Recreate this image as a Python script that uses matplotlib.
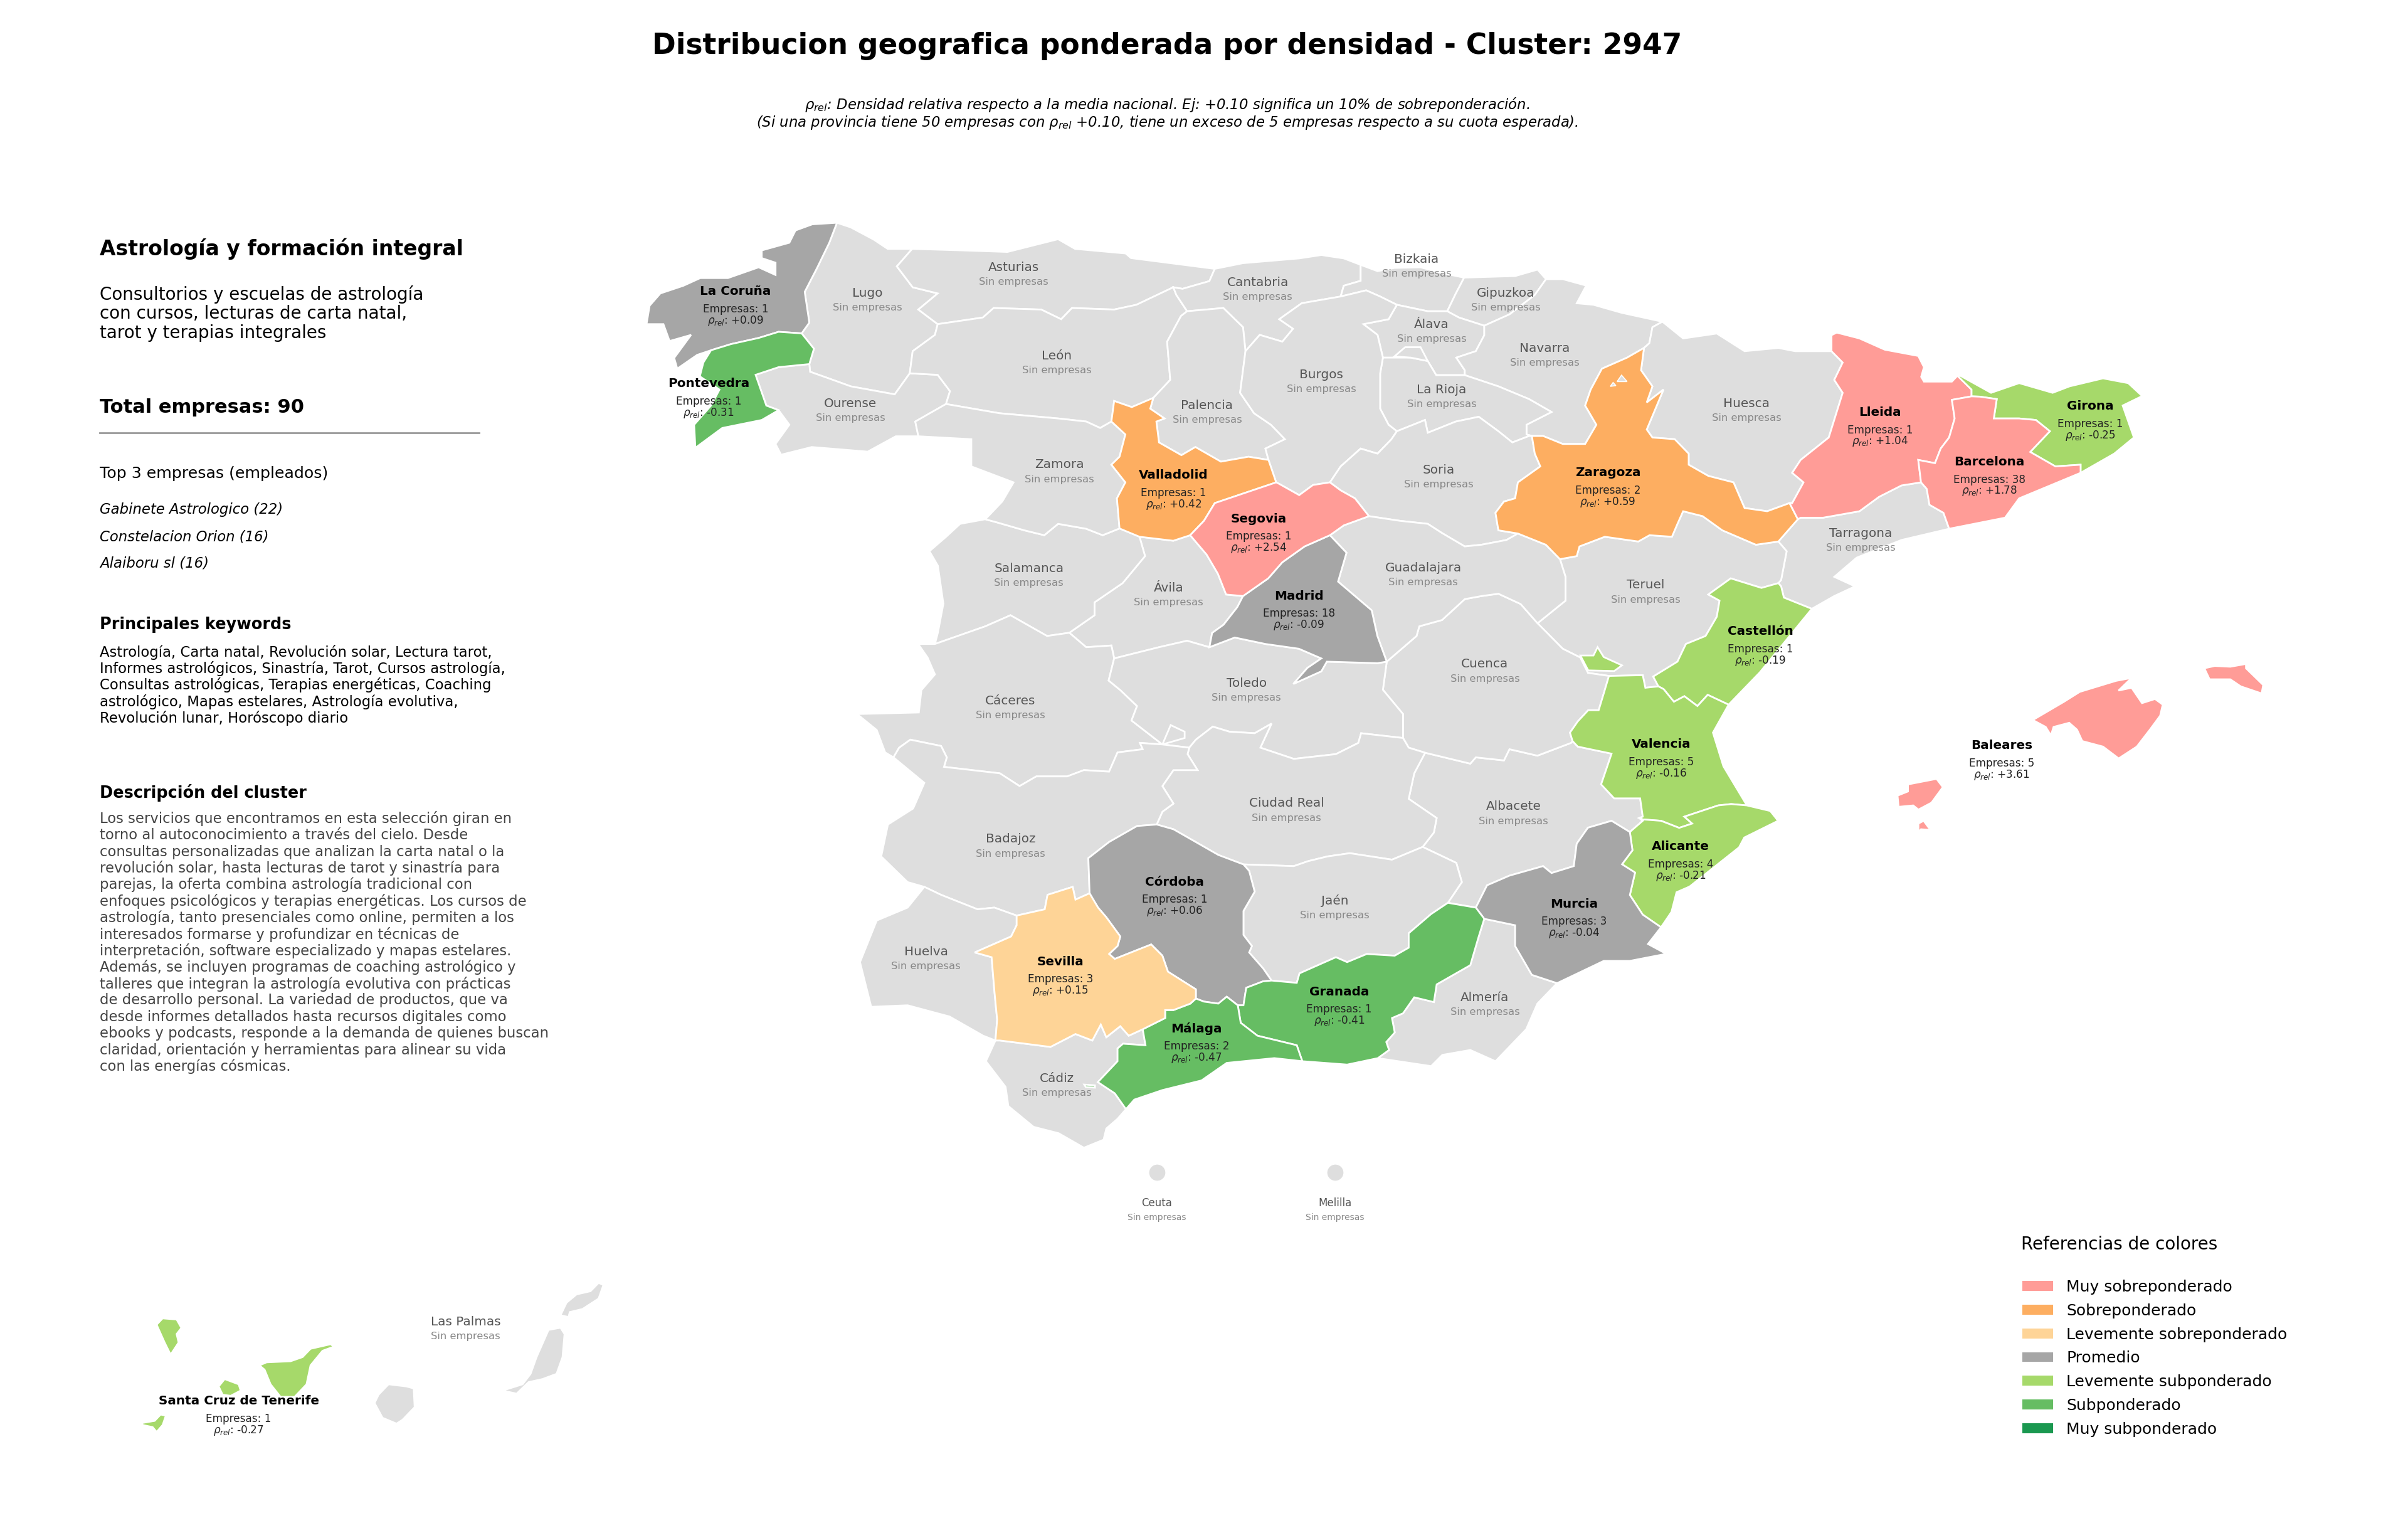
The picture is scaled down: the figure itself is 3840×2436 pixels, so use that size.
import numpy as np
import matplotlib
matplotlib.use('Agg')
import matplotlib.pyplot as plt
from matplotlib.patches import Patch

# outlines, one list per stretch of border or coast
c_cor = [(545,145),(529,146),(518,150),(514,158),(496,163),(496,168),(505,171),(505,179),(494,174),(474,181),(456,181),(445,186),(430,191),(423,199),(421,211),(432,211),(436,222),(450,218),(439,233),(441,240),(454,231),(463,228)]
b_cor_pon = [(463,228),(476,224),(494,220),(507,216),(522,217)]
b_cor_lug = [(522,217),(527,210),(524,190),(532,174.5),(540,158),(545,145)]
c_lug = [(545,145),(554,148),(569,156),(578,162),(594,162)]
b_lug_pon = [(522,217),(530,227),(527,237)]
b_pon_our = [(527,237),(507,239),(492,244),(499,264),(507,267)]
c_pon = [(463,228),(458,236),(455.7,245),(468.5,253.6),(463,264),(452,276.5),(452.8,291.5)]
b_pon_s = [(452.8,291.5),(470.3,278.6),(496,273.4),(507,267)]
c_our = [(598,284),(583.3,284),(565,294),(528.6,291),(508.6,296),(505,289),(514,276.5),(507,267)]
b_our_zam = [(616,263),(596,274.4),(598,284)]
b_leon_our = [(616,263),(618.6,254.6),(610.6,244),(592.4,243)]
b_our_lug = [(527,237),(527.5,242),(539.6,246.3),(554,251.5),(582.6,256.7),(592.4,243)]
b_lug_ast = [(594,162),(584,173.4),(594.3,187),(610.6,191),(598,201.5),(610.6,211)]
b_lug_leon = [(610.6,211),(608.8,218),(594.3,228.6),(592.4,243)]
c_ast = [(594,162),(627,163),(656,164),(689,155.7),(700,162),(733,165),(736.5,168),(791,175)]
b_ast_can = [(791,175),(787.5,183),(770,188),(764,187)]
b_ast_leon = [(610.6,211),(640,206.7),(647,200.5),(678,201.5),(691,207.8),(698,200.5),(725.5,201.5),(740,198.4),(764,187)]
b_leon_can = [(764,187),(766,192),(773,202.6)]
b_leon_pal = [(773,202.6),(769,205.7),(760,222.4),(762,247.3),(751,259)]
b_leon_vall = [(751,259),(737,265),(725.5,261),(723.7,274.4)]
b_leon_zam = [(616,263),(650.8,269),(689,272.4),(707.3,274.4),(716.4,278.6),(723.7,274.4)]
b_zam_vall = [(723.7,274.4),(732.8,282.8),(729,297.3),(723.7,302.5),(732.8,314),(727.3,324.4),(729,344)]
b_zam_sal = [(641.6,338),(649,340),(667,345.2),(680,348.4),(689,341),(707.3,344.2),(718,348.4),(729,344)]
c_zam = [(598,284),(632.5,285.9),(632.5,303.6),(660,314),(652.6,326.5),(641.6,338)]
b_sal_vall = [(729,344),(742,349.4)]
b_vall_avi = [(742,349.4),(764,352),(775,348.4)]
b_vall_seg = [(775,348.4),(784,339),(791,327.5),(831,314)]
b_vall_bur = [(831,314),(826,299.4)]
b_vall_pal = [(826,299.4),(813,297.3),(795,300.5),(778.4,291),(769.3,296.3),(754.7,288),(753,274.4),(758.3,272.4),(749,266),(751,259)]
b_pal_bur = [(826,299.4),(824,292),(836.7,285.9),(827.6,276.5),(816.6,269),(807.5,255.7),(811,228.6)]
b_pal_can = [(773,202.6),(796.6,200.5),(809.4,213),(811,228.6)]
b_can_bur = [(811,228.6),(820.3,218),(835,222.4),(842,214),(833,207.8),(847.6,197.4),(873,193)]
c_can = [(791,175),(809.4,171.3),(846,168.2),(860.4,166),(875,168.2),(886,172.4)]
b_can_biz = [(886,172.4),(886,182.8),(875,186),(873,193)]
c_biz = [(886,172.4),(897,176.5),(908,174.4),(925,174),(940,178),(953.4,180.7)]
b_biz_bur = [(873,193),(889.6,189),(898.7,193),(909.6,198.4)]
b_biz_ala = [(909.6,198.4),(929.7,202.6),(942.4,202.6)]
b_biz_gip = [(953.4,180.7),(948,191),(942.4,202.6)]
b_bur_ala = [(909.6,198.4),(904.2,207.8),(887.8,211),(897,218),(900.5,232.8)]
b_ala_rio = [(900.5,232.8),(918.7,232.8),(929.7,235),(935.2,244.2),(953.8,244.2)]
b_bur_rio = [(900.5,232.8),(898.7,243.2),(898.7,266),(904.2,276.5),(909.6,280.7)]
b_bur_sor = [(909.6,280.7),(906,286),(897,295.3),(886,292),(873,303.6),(866,314)]
b_bur_seg = [(866,314),(855,315.7),(846,322.3),(833,315),(831,314)]
b_sor_seg = [(866,314),(873,319.2),(882.3,324.4),(891.4,336)]
b_seg_gua = [(891.4,336),(875,342),(866,348.4)]
b_seg_mad = [(866,348.4),(849.5,355.7),(835,366),(825.8,376.5),(809.4,388)]
b_seg_avi = [(809.4,388),(798.4,387),(793,373.4),(785.7,361),(775,348.4)]
b_mad_gua = [(866,348.4),(876.8,359.8),(871.3,378.6),(893.2,397.3),(896.9,414),(903,430.7)]
b_mad_tol = [(903,430.7),(897,431.7),(864,430.7),(860.4,437),(842.2,445.2),(851.3,434.8),(860.4,428.6),(845.8,422.3),(824,419.2),(804,415),(787.5,421.3)]
b_mad_avi = [(787.5,421.3),(789.3,412),(796.7,406.7),(805.7,395.2),(809.4,388)]
b_avi_tol = [(787.5,421.3),(773,417.1),(754.7,421.3),(725.5,428.6)]
b_avi_cac = [(725.5,428.6),(723.7,420.2),(707.3,421.3),(696.3,411.9)]
b_sal_avi = [(696.3,411.9),(712.7,400.5),(712.7,392.1),(731,379.6),(745.6,362),(742,349.4)]
b_sal_cac = [(696.3,411.9),(681.8,414),(658,400.5),(641.6,407.7),(608.8,419.2)]
c_sal = [(608.8,419.2),(610.7,411.9),(614.3,393),(610.7,368.2),(605.2,358.8),(616.1,349.4),(625.2,341),(641.6,338)]
c_cac = [(581.8,493),(576.4,489.8),(570.9,475.2),(558.1,464.8),(598.3,463.8),(600,449.2),(608.8,439),(604,428),(597.9,419.2),(608.8,419.2)]
b_cac_tol = [(725.5,428.6),(721.9,443),(729.5,449.2),(740.4,459.6),(736.8,469),(756.9,484.6)]
b_cac_bad = [(756.9,484.6),(742.3,483.6),(744.1,487.7),(727.7,489.8),(722.2,502.3),(705.8,501.3),(694.9,505.4),(674.8,505.4),(663.9,511.7),(651.1,503.4),(632.9,501.3),(614.7,499.2),(616.5,493),(612.8,485.6),(592.8,481.5),(585.5,486.7),(581.8,493)]
b_tol_bad = [(756.9,484.6),(774.4,486.7)]
b_tol_cr = [(774.4,486.7),(778.7,481.5),(789.7,473),(800.6,476.3),(817,477.3),(828,471),(820.7,486.7),(842.5,494),(869.9,490.9),(884.5,483.6),(886.3,477.3),(913.6,480.4)]
b_tol_cue = [(903,430.7),(900.5,449),(913.6,464.8),(913.6,480.4)]
b_cr_cue = [(913.6,480.4),(917.3,486.7),(928,490)]
b_cr_alb = [(928,490),(920.9,503.4),(917.3,520),(935.5,532.5),(933.7,541.9),(926.4,551.3)]
b_cr_jae = [(926.4,551.3),(906.4,559.6),(879,555.4),(864.4,557.5),(851.7,560.6),(842.5,563.8),(809.7,562.7)]
b_cr_cor = [(809.7,562.7),(793.3,556.5),(764.1,539.8),(753.2,536.7)]
b_cr_bad = [(753.2,536.7),(756.9,528.4),(764.1,523.1),(756.9,511.7),(764.1,501.3),(779.8,501.3),(773.3,490.9),(774.4,486.7)]
c_bad = [(581.8,493),(601.9,509.6),(594.6,526.3),(578.2,536.7),(573.8,557.5),(591,574.2),(601.9,577.3)]
b_bad_hue = [(601.9,577.3),(612.8,582.5),(636.5,591.9),(647.5,590.8),(662,596)]
b_bad_sev = [(662,596),(680.3,591.9),(682.1,582.5),(698.5,577.3),(700.3,585.6),(709.5,581.5)]
b_bad_cor = [(709.5,581.5),(708.7,558.6),(722.2,548.1),(740.4,537.7),(753.2,536.7)]
b_cor_jae = [(809.7,562.7),(813.4,566.9),(817,580.4),(809.7,593),(809.7,608.6),(815.2,615.8),(813.4,620),(822.5,630.4),(828,638.3)]
b_cor_gra = [(828,638.3),(822.5,638.8),(811.5,643),(809.7,654.4),(806,654.4)]
b_cor_mal = [(806,654.4),(798.8,648.8),(793.3,653.3),(784,652),(778.7,650)]
b_cor_sev = [(778.7,650),(778.7,644),(760.5,632.5),(756.9,622.1),(749.6,614.8),(725.9,624.2),(722.2,621),(727.7,615.8),(729.5,609.6),(720.4,597.1),(715,590.8),(709.5,581.5)]
b_jae_alb = [(926.4,551.3),(948.3,561.7),(951.9,574.2),(942.8,587.7)]
b_jae_gra = [(828,638.3),(844.4,639.8),(846.2,633.6),(869.9,623.1),(877.2,626.3),(890,621),(908.2,622.1),(917.3,616.9),(917.3,607.5),(931.9,595),(942.8,587.7)]
b_alb_gra = [(942.8,587.7),(961,590.8)]
b_alb_mur = [(961,590.8),(968.3,576.3),(982.9,570),(1004.8,563.8),(1010.3,568.3),(1024.8,563.8),(1026.7,549.2),(1034,538.8),(1049.4,534.3),(1061.3,541.6)]
b_alb_ali = [(1061.3,541.6),(1069.7,534.3),(1067.4,532.5)]
b_alb_val = [(1067.4,532.5),(1069.7,531.6),(1068,519.7),(1051.1,519.7),(1042.6,510.6),(1049.4,490.6),(1027.4,486),(1024,482.4)]
b_cue_alb = [(928,490),(957.4,497.1),(961,493),(979.3,495),(982.9,487.7),(1001.1,491.9),(1023,483.6),(1024,482.4)]
b_cue_val = [(1047.7,440),(1044.3,451.4),(1041,462.3),(1034.2,462.3),(1027.4,469.6),(1022.3,476.9),(1024,482.4)]
b_ter_val = [(1047.7,440),(1069.7,439.5),(1071.4,447.7),(1079.9,446.8)]
b_cas_val = [(1079.9,446.8),(1083.3,448.6),(1090,456.8),(1096.8,453.2),(1105.3,459.6),(1112,452.3),(1125.6,458.7)]
c_val = [(1125.6,458.7),(1115.4,476.9),(1122.2,498.8),(1137.5,524.3)]
b_val_ali = [(1137.5,524.3),(1127.3,523.4),(1118.8,524.3),(1096.8,531.6),(1101.9,536.1),(1093.4,538.9),(1081.6,534.3),(1069.7,533.4),(1067.4,532.5)]
c_ali = [(1137.5,524.3),(1152.7,527.9),(1157.8,534.3),(1135.8,545.2),(1132.4,551.6),(1100.2,577.1),(1091.7,580.8),(1088.4,593.6),(1081.6,603.6)]
b_ali_mur = [(1061.3,541.6),(1063,553.5),(1056.2,562.6),(1064.7,568),(1061.3,582.6),(1069.7,595.4),(1081.6,603.6)]
c_mur = [(1081.6,603.6),(1073.1,614.5),(1085,620.9),(1061.3,625.5),(1044.3,625.5),(1013.9,640)]
b_alm_mur = [(1013.9,640),(997.5,634.6),(986.6,615.8),(986.6,602.3),(966.5,598.1)]
b_gra_mur = [(966.5,598.1),(961,590.8)]
b_gra_alm = [(966.5,598.1),(962.9,609.6),(957.4,628.3),(935.5,640.8),(933.7,652.3),(920.9,649.2),(913.6,659.6),(906.4,662.7),(908.2,672.1),(902.7,678.3),(904.5,683.5),(897.2,688.8)]
c_alm = [(1013.9,640),(1001.1,653.3),(993.8,670),(973.8,690.8),(957.4,683.5),(939.2,686.7),(931.9,694),(897.2,688.8)]
c_gra = [(897.2,688.8),(877.2,693),(848,690.8)]
b_gra_mal = [(806,654.4),(807.9,665.8),(818.8,674.2),(844.4,680.4),(848,690.8)]
c_mal = [(848,690.8),(829.8,688.8),(798.8,691.9),(782.4,703.3),(756.9,709.6),(738.6,715.8),(733.2,722)]
b_cad_mal = [(733.2,722),(725.9,711.7),(714.9,704.4),(727.7,690.8),(727.7,682.5),(731.3,679.4),(745.9,680.4),(744.1,670)]
b_sev_mal = [(778.7,650),(775.1,653.3),(764.1,657.5),(758.7,657.5),(758.7,662.7),(744.1,670)]
b_sev_cad = [(744.1,670),(735,674.2),(729.5,668),(720.4,675.2),(716.8,666.9),(711.3,677.3),(700.3,673.1),(684,681.5),(651.1,677.3),(648.2,677.3)]
b_hue_sev = [(662,596),(662,602.3),(658.4,609.6),(634.7,620),(645.7,623.1),(647.5,645),(649.3,663.7),(648.2,677.3)]
c_hue_s = [(648.2,677.3),(640.2,674.2),(618.3,661.7),(591,654.4),(567.3,655.4),(560,626.3),(570.9,599.2),(591,590.8),(601.9,577.3)]
c_cad = [(648.2,677.3),(642,690.8),(654.8,707.5),(656.6,720),(673,733.5),(689.4,737.7),(705.8,747.1),(718.6,741.9),(720.4,734.6),(727.7,728.3),(733.2,722)]
b_gua_cue = [(903,430.7),(922.4,414),(924.2,407.7),(939,403.6),(953.8,390),(964.7,388),(975.7,386.5),(990.2,393.2),(1001.2,405.7)]
b_ter_cue = [(1001.2,405.7),(1017.6,422.3),(1029,428),(1034,438),(1047.7,440)]
b_gua_ter = [(1015.8,364),(1019.4,375.5),(1019.4,391),(1001.2,405.7)]
b_sor_gua = [(891.4,336),(911.4,339),(929.7,341),(939,347),(953.8,355.7),(964.7,354.6),(981,351.5),(988.4,347.3)]
b_sor_rio = [(909.6,280.7),(927.9,273.4),(929.7,281.7),(948,274.4),(962.9,271.3),(975.7,280.7),(984.8,288),(995.7,283.8),(997.5,283.8)]
b_nav_rio = [(953.8,244.2),(975.7,251.5),(995.7,259.8),(1010.3,268.2),(994,276.5),(994,282.8),(997.5,283.8)]
b_ala_nav = [(966.5,212),(966.5,218.2),(961,228.6),(948.3,232.8),(953.8,241),(953.8,244.2)]
b_gip_nav = [(1006.7,181.7),(999.4,192),(983,204.6),(966.5,212)]
b_gip_ala = [(942.4,202.6),(950,206.7),(966.5,212)]
c_gip = [(953.4,180.7),(986.6,179.7),(1001.2,175.5),(1006.7,181.7)]
c_nav = [(1006.7,181.7),(1017.6,181.7),(1032.9,185.9),(1026.7,197.4),(1037.6,198.4),(1055.9,203.6),(1082.5,209.4)]
b_nav_hue = [(1082.5,209.4),(1076,213),(1074,223.4),(1070.5,226.5)]
b_nav_zar = [(997.5,283.8),(1004.8,283.8),(1017.6,289),(1032.2,289),(1039.5,276.5),(1032.2,264),(1035.8,253.6),(1043.1,240),(1059.5,232.8),(1070.5,226.5)]
b_zar_hue = [(1070.5,226.5),(1068.6,241),(1076,251.5),(1072.3,262),(1083.2,253.6),(1072.3,279.6),(1076,284.8),(1090.5,285.9),(1099.6,295.3),(1099.6,302.5),(1112.4,309.8),(1128.8,314),(1136,330.7),(1150.7,332.8),(1165.3,327.5)]
b_zar_lle = [(1165.3,327.5),(1170.7,338)]
b_zar_tar = [(1170.7,338),(1158,352.5)]
b_zar_ter = [(1158,352.5),(1143.4,354.6),(1121.5,345.2),(1108.7,336),(1096,332.8),(1092.3,341),(1088.7,349.4),(1074.1,348.4),(1066.8,352.5),(1045,349.4),(1028.5,355.7),(1026.7,362),(1015.8,364)]
b_zar_gua = [(1015.8,364),(1006.6,354.6),(988.4,347.3)]
b_zar_sor = [(988.4,347.3),(975.7,345.2),(973.8,333.8),(979.3,326.5),(986.6,324.4),(988.4,314),(1003,303.6),(999.4,295.3),(997.5,283.8)]
c_hue = [(1082.5,209.4),(1096,220.3),(1117.9,217.1),(1136,228.6),(1158,226.5),(1168.9,228.6),(1192.6,228.6)]
b_hue_lle = [(1192.6,228.6),(1199.9,236),(1194.4,247.3),(1199.9,255.7),(1190.8,284.8),(1172.5,299.4),(1167,307.8),(1174.4,314),(1167,327.5),(1165.3,327.5)]
c_lle = [(1192.6,228.6),(1192.6,218.2),(1196,216.5),(1210.8,220.3),(1227.2,227.6),(1249.1,231.7),(1252.8,239),(1251,245.3),(1252.8,248.4),(1271,248.4),(1274.6,244.6)]
b_lle_gir = [(1274.6,244.6),(1283.8,253.6),(1283.8,258)]
b_lle_bar = [(1283.8,258),(1271,260.3),(1272.8,272.4),(1269.2,284.8),(1263.7,292),(1260,301.5),(1249.1,299.4),(1250.9,314)]
b_lle_tar = [(1250.9,314),(1238.2,316),(1223.6,323.4),(1210.8,332.8),(1187.1,337),(1172.5,337),(1170.7,338)]
b_bar_tar = [(1250.9,314),(1254.6,318.2),(1256.4,328.6),(1265.5,333.8),(1269.2,344.2)]
c_bar = [(1269.2,344.2),(1305.6,337),(1314.8,324.4),(1354.8,307.8)]
b_bar_gir = [(1354.8,307.8),(1354.8,302.5),(1338.4,303.6),(1322,294.2),(1334.8,280.7),(1325.7,273.4),(1314.8,272.4),(1298.3,272.4),(1300.2,259.8),(1289.2,258.2),(1283.8,258)]
c_gir = [(1354.8,307.8),(1376.7,295.3),(1389.5,284.8),(1382.2,264),(1394.9,257.8),(1385.8,249.4),(1369.4,246.3),(1347.6,251.5),(1336.6,255.7),(1314.8,249.4),(1296.5,255.7),(1276.5,244.6),(1274.6,244.6)]
c_tar = [(1269.2,344.2),(1238.2,351.5),(1209,363),(1194.4,375.5),(1207.9,381.7),(1194.4,388),(1179.8,396.3)]
b_tar_cas = [(1179.8,396.3),(1161.6,389),(1159.8,381.7),(1158,379.6)]
b_tar_ter = [(1158,352.5),(1163.4,358.8),(1159.8,377.5),(1158,379.6)]
b_cas_ter = [(1158,379.6),(1147,382.7),(1127,376.5),(1112.4,387),(1119.7,391),(1117.9,401.5),(1110.6,414),(1097.8,419.2),(1092.3,430.7),(1076.5,440.4),(1079.9,446.8)]
c_cas = [(1179.8,396.3),(1165.3,414),(1145.9,437.7),(1125.6,458.7)]

# islands and loose pieces
ademuz = [(1040.3,421.3),(1044.3,427.7),(1056.2,433.1),(1051.1,436.8),(1034.2,436.4),(1029.1,426.7),(1037.6,426.7)]
mallorca = [(1323.7,468.7),(1344,456.8),(1354.2,450.4),(1366,446.8),(1377.9,443.2),(1388,441.3),(1379.5,449.5),(1388,447.7),(1394.8,457.7),(1403.3,455),(1408.3,458.7),(1406.6,465.9),(1399.9,475),(1391.4,486),(1379.6,493.7),(1369.4,486),(1355.9,482.4),(1352.5,475),(1347.4,470.5),(1337.2,473.2),(1335.5,478.7),(1332.1,473.2)]
menorca = [(1435.4,435),(1438.8,442.2),(1452.3,442.2),(1459.1,446.8),(1472.7,451.4),(1473.7,445.9),(1462.5,435),(1462.5,432.2),(1452.3,434),(1442.2,433.5)]
ibiza = [(1235.6,517.9),(1242.4,515.2),(1242.4,510.6),(1261,507),(1265.1,512.4),(1257.7,522.5),(1249.2,527),(1245.8,524.3),(1236.3,525.2)]
formentera = [(1249.2,536.1),(1252.6,534.3),(1256,538.9),(1262.7,540.7),(1250.9,539.8),(1249.2,541.6)]
la_palma = [(102,862.3),(105.9,858.2),(115,858.9),(118.1,864.4),(115,868.4),(116.3,873.9),(111.1,881.8),(107.2,873.9)]
gomera = [(142.4,902.5),(146.3,897.7),(155.4,901.1),(156.7,905.2),(150.2,908.6),(145,907.9)]
tenerife = [(168.9,888.8),(173.6,886.8),(189.2,886.1),(197,883.4),(202.2,878),(215.3,875),(217.4,876.6),(210,879.3),(202.2,888.8),(199.6,901.1),(191.8,909.3),(182.7,909.3),(176.2,901.1),(172.3,891.6)]
hierro = [(92.4,926.3),(100.7,924.9),(104.6,920.8),(108,921.5),(105.9,927.6),(102,932.1),(99.4,929),(92.9,927.6)]
gran_canaria = [(253,901.1),(264.7,902.5),(269.4,903.8),(270,916),(262.1,924.2),(258.2,926.7),(249.1,922.9),(243.9,913.3),(246.5,907.9)]
fuerteventura = [(327.2,905.2),(340.3,901.1),(345.5,894.3),(349.4,883.4),(357.2,865.7),(365,864.3),(367.6,868.4),(366.3,883.4),(362.4,894.3),(353.3,897.7),(344.2,899.7),(336.4,907.2)]
lanzarote = [(365,856.2),(368.9,848),(375.4,842.6),(384.5,840.5),(389.8,835.1),(392.9,836.5),(389.8,845.3),(379.3,852.1),(371,854.1),(370.2,857.3)]
trevino = [(908,232),(915,226),(925,226),(929.7,235),(918.7,232.8)]
zar_hole1 = [(1055.9,244.2),(1059.5,248.4),(1053,248.4)]
zar_hole2 = [(1050.4,249),(1052.2,251),(1048.6,251.5)]
tol_bit = [(756.9,484.6),(762.3,472),(771.4,476.3),(771.4,480.4)]
mal_bit = [(706,706),(713,706.5),(713,708),(707,707.6)]
ceuta_xy = (753.2,763.1)
melilla_xy = (869.2,763.1)

# provinces with companies
act_names = ['La Coruña','Pontevedra','Valladolid','Segovia','Madrid','Zaragoza','Lleida','Girona','Barcelona','Castellón','Valencia','Alicante','Murcia','Baleares','Córdoba','Sevilla','Málaga','Granada','Santa Cruz de Tenerife']
act_empresas = [1,1,1,1,18,2,1,1,38,1,5,4,3,5,1,3,2,1,1]
act_rho = [0.09,-0.31,0.42,2.54,-0.09,0.59,1.04,-0.25,1.78,-0.19,-0.16,-0.21,-0.04,3.61,0.06,0.15,-0.47,-0.41,-0.27]
act_cat = [3,5,1,0,3,1,0,4,0,4,4,4,3,0,3,2,5,5,4]
act_xy = [(479,189.7),(461.5,249.7),(764.2,309.4),(819.6,337.8),(845.8,388),(1047,307.8),(1224.3,268.4),(1361,264.4),(1295.4,300.7),(1146.3,411.1),(1081.9,484.5),(1094.4,551.1),(1025,588.4),(1303.4,485.3),(764.9,574.2),(690.5,626),(779,669.6),(872,645.6),(155.4,912)]

# provinces without companies
none_names = ['Asturias','Lugo','Ourense','León','Cantabria','Bizkaia','Gipuzkoa','Álava','Navarra','La Rioja','Palencia','Burgos','Zamora','Soria','Huesca','Tarragona','Salamanca','Ávila','Guadalajara','Teruel','Cuenca','Toledo','Cáceres','Ciudad Real','Albacete','Badajoz','Jaén','Huelva','Cádiz','Almería','Las Palmas']
none_xy = [(660.2,174),(564.7,190.9),(553.8,262.6),(688,231.7),(819,183.8),(922.4,168.8),(980.4,190.9),(932.2,211.3),(1006,226.9),(938.8,253.6),(786,263.8),(860.4,243.8),(689.8,302.5),(937,305.9),(1137.2,262.6),(1211.6,347.3),(670,370.2),(761,382.7),(926.8,369.8),(1071.6,380.9),(966.9,432.3),(811.6,444.8),(658,456.3),(837.8,523),(985.5,525),(658,546.3),(869.1,586.5),(603,619.6),(688.3,701.9),(966.9,649.4),(303.3,860.5)]

cat_labels = ['Muy sobreponderado','Sobreponderado','Levemente sobreponderado','Promedio','Levemente subponderado','Subponderado','Muy subponderado']
cat_colors = ['#FF9C97','#FDAE61','#FED497','#A6A6A6','#A6D96A','#66BD63','#1A9850']
grey_fill = '#DEDEDE'

top_empresas = ['Gabinete Astrologico (22)','Constelacion Orion (16)','Alaiboru sl (16)']
top_y = [331.8,349.5,366.6]
keywords = ['Astrología, Carta natal, Revolución solar, Lectura tarot,',
            'Informes astrológicos, Sinastría, Tarot, Cursos astrología,',
            'Consultas astrológicas, Terapias energéticas, Coaching',
            'astrológico, Mapas estelares, Astrología evolutiva,',
            'Revolución lunar, Horóscopo diario']
descripcion = ['Los servicios que encontramos en esta selección giran en',
               'torno al autoconocimiento a través del cielo. Desde',
               'consultas personalizadas que analizan la carta natal o la',
               'revolución solar, hasta lecturas de tarot y sinastría para',
               'parejas, la oferta combina astrología tradicional con',
               'enfoques psicológicos y terapias energéticas. Los cursos de',
               'astrología, tanto presenciales como online, permiten a los',
               'interesados formarse y profundizar en técnicas de',
               'interpretación, software especializado y mapas estelares.',
               'Además, se incluyen programas de coaching astrológico y',
               'talleres que integran la astrología evolutiva con prácticas',
               'de desarrollo personal. La variedad de productos, que va',
               'desde informes detallados hasta recursos digitales como',
               'ebooks y podcasts, responde a la demanda de quienes buscan',
               'claridad, orientación y herramientas para alinear su vida',
               'con las energías cósmicas.']


def dist(p, q):
    return np.hypot(p[0] - q[0], p[1] - q[1])


def chain(arcs):
    # glue border stretches into one ring, flipping whichever runs backwards
    pts = []
    for i, a in enumerate(arcs):
        a = list(a)
        if i == 0:
            nxt = arcs[1]
            if min(dist(a[0], nxt[0]), dist(a[0], nxt[-1])) < min(dist(a[-1], nxt[0]), dist(a[-1], nxt[-1])):
                a = a[::-1]
        elif dist(pts[-1], a[-1]) < dist(pts[-1], a[0]):
            a = a[::-1]
        pts += a
    return pts


shapes = {
    'La Coruña': [chain([c_cor, b_cor_pon, b_cor_lug])],
    'Pontevedra': [chain([c_pon, b_pon_s, b_pon_our, b_lug_pon, b_cor_pon])],
    'Lugo': [chain([c_lug, b_lug_ast, b_lug_leon, b_our_lug, b_lug_pon, b_cor_lug])],
    'Ourense': [chain([b_pon_our, c_our, b_our_zam, b_leon_our, b_our_lug])],
    'Asturias': [chain([c_ast, b_ast_can, b_ast_leon, b_lug_ast])],
    'León': [chain([b_ast_leon, b_leon_can, b_leon_pal, b_leon_vall, b_leon_zam, b_leon_our, b_lug_leon])],
    'Cantabria': [chain([c_can, b_can_biz, b_can_bur, b_pal_can, b_leon_can, b_ast_can])],
    'Palencia': [chain([b_leon_pal, b_vall_pal, b_pal_bur, b_pal_can])],
    'Bizkaia': [chain([c_biz, b_biz_gip, b_biz_ala, b_biz_bur, b_can_biz])],
    'Gipuzkoa': [chain([c_gip, b_gip_nav, b_gip_ala, b_biz_gip])],
    'Álava': [chain([b_biz_ala, b_gip_ala, b_ala_nav, b_ala_rio, b_bur_ala])],
    'Navarra': [chain([c_nav, b_nav_hue, b_nav_zar, b_nav_rio, b_ala_nav, b_gip_nav])],
    'La Rioja': [chain([b_ala_rio, b_nav_rio, b_sor_rio, b_bur_rio])],
    'Burgos': [chain([b_can_bur, b_biz_bur, b_bur_ala, b_bur_rio, b_bur_sor, b_bur_seg, b_vall_bur, b_pal_bur]), trevino],
    'Soria': [chain([b_sor_rio, b_zar_sor, b_sor_gua, b_sor_seg, b_bur_sor])],
    'Zaragoza': [chain([b_nav_zar, b_zar_hue, b_zar_lle, b_zar_tar, b_zar_ter, b_zar_gua, b_zar_sor])],
    'Huesca': [chain([c_hue, b_hue_lle, b_zar_hue, b_nav_hue])],
    'Lleida': [chain([c_lle, b_lle_gir, b_lle_bar, b_lle_tar, b_zar_lle, b_hue_lle])],
    'Girona': [chain([c_gir, b_lle_gir, b_bar_gir])],
    'Barcelona': [chain([b_lle_bar, b_bar_tar, c_bar, b_bar_gir])],
    'Tarragona': [chain([b_bar_tar, c_tar, b_tar_cas, b_tar_ter, b_zar_tar, b_lle_tar])],
    'Teruel': [chain([b_zar_ter, b_gua_ter, b_ter_cue, b_ter_val, b_cas_ter, b_tar_ter])],
    'Castellón': [chain([c_cas, b_cas_val, b_cas_ter, b_tar_cas])],
    'Valencia': [chain([b_cas_val, c_val, b_val_ali, b_alb_val, b_cue_val, b_ter_val]), ademuz],
    'Alicante': [chain([b_val_ali, c_ali, b_ali_mur, b_alb_ali])],
    'Murcia': [chain([b_ali_mur, c_mur, b_alm_mur, b_gra_mur, b_alb_mur])],
    'Albacete': [chain([b_alb_ali, b_alb_val, b_cue_alb, b_cr_alb, b_jae_alb, b_alb_gra, b_alb_mur])],
    'Cuenca': [chain([b_gua_cue, b_ter_cue, b_cue_val, b_cue_alb, b_cr_cue, b_tol_cue])],
    'Guadalajara': [chain([b_sor_gua, b_zar_gua, b_gua_ter, b_gua_cue, b_mad_gua, b_seg_gua])],
    'Madrid': [chain([b_mad_gua, b_mad_tol, b_mad_avi, b_seg_mad])],
    'Ávila': [chain([b_vall_avi, b_seg_avi, b_mad_avi, b_avi_tol, b_avi_cac, b_sal_avi])],
    'Salamanca': [chain([b_zam_sal, b_sal_vall, b_sal_avi, b_sal_cac, c_sal])],
    'Zamora': [chain([b_leon_zam, b_zam_vall, b_zam_sal, c_zam, b_our_zam])],
    'Valladolid': [chain([b_leon_vall, b_zam_vall, b_sal_vall, b_vall_avi, b_vall_seg, b_vall_bur, b_vall_pal])],
    'Segovia': [chain([b_vall_seg, b_bur_seg, b_sor_seg, b_seg_gua, b_seg_mad, b_seg_avi])],
    'Cáceres': [chain([b_sal_cac, b_avi_cac, b_cac_tol, b_cac_bad, c_cac])],
    'Toledo': [chain([b_mad_tol, b_avi_tol, b_cac_tol, b_tol_bad, b_tol_cr, b_tol_cue]), tol_bit],
    'Ciudad Real': [chain([b_tol_cr, b_cr_cue, b_cr_alb, b_cr_jae, b_cr_cor, b_cr_bad])],
    'Badajoz': [chain([b_cac_bad, c_bad, b_bad_hue, b_bad_sev, b_bad_cor, b_cr_bad, b_tol_bad])],
    'Córdoba': [chain([b_bad_cor, b_cr_cor, b_cor_jae, b_cor_gra, b_cor_mal, b_cor_sev])],
    'Jaén': [chain([b_cr_jae, b_jae_alb, b_jae_gra, b_cor_jae])],
    'Granada': [chain([b_jae_gra, b_alb_gra, b_gra_mur, b_gra_alm, c_gra, b_gra_mal, b_cor_gra])],
    'Almería': [chain([c_alm, b_gra_alm, b_alm_mur])],
    'Málaga': [chain([b_cor_mal, b_sev_mal, b_cad_mal, c_mal, b_gra_mal]), mal_bit],
    'Sevilla': [chain([b_bad_sev, b_cor_sev, b_sev_mal, b_sev_cad, b_hue_sev])],
    'Huelva': [chain([b_bad_hue, b_hue_sev, c_hue_s])],
    'Cádiz': [chain([b_sev_cad, c_cad, b_cad_mal])],
    'Baleares': [mallorca, menorca, ibiza, formentera],
    'Santa Cruz de Tenerife': [la_palma, gomera, tenerife, hierro],
    'Las Palmas': [gran_canaria, fuerteventura, lanzarote],
}

plt.rcParams['font.family'] = 'DejaVu Sans'
fig = plt.figure(figsize=(19.2, 12.18), facecolor='white')
ax = fig.add_axes([0, 0, 1, 1])
ax.set_xlim(0, 1568)
ax.set_ylim(994.65, 0)
ax.axis('off')

fill_of = {n: cat_colors[c] for n, c in zip(act_names, act_cat)}
for name in sorted(shapes, key=lambda n: n in fill_of):
    for ring in shapes[name]:
        xs, ys = zip(*ring)
        ax.fill(xs, ys, facecolor=fill_of.get(name, grey_fill), edgecolor='white', linewidth=1.0, zorder=2 if name in fill_of else 1)
for ring in [zar_hole1, zar_hole2]:
    xs, ys = zip(*ring)
    ax.fill(xs, ys, facecolor=grey_fill, edgecolor='white', linewidth=0.6, zorder=3)
ax.scatter([ceuta_xy[0], melilla_xy[0]], [ceuta_xy[1], melilla_xy[1]], s=95, color=grey_fill, edgecolor='white', linewidth=0.5, zorder=2)

# province labels
for name, n, rho, (x, y) in zip(act_names, act_empresas, act_rho, act_xy):
    ax.text(x, y, name, ha='center', va='center', fontsize=7.2, fontweight='bold', color='black', zorder=5)
    ax.text(x, y + 11.5, f'Empresas: {n}', ha='center', va='center', fontsize=6.1, color='#222222', zorder=5)
    ax.text(x, y + 19, r'$\rho_{rel}$: ' + f'{rho:+.2f}', ha='center', va='center', fontsize=6.1, color='#222222', zorder=5)
for name, (x, y) in zip(none_names, none_xy):
    ax.text(x, y, name, ha='center', va='center', fontsize=7.2, color='#555555', zorder=5)
    ax.text(x, y + 9.5, 'Sin empresas', ha='center', va='center', fontsize=5.9, color='#888888', zorder=5)
for name, (x, y) in zip(['Ceuta', 'Melilla'], [ceuta_xy, melilla_xy]):
    ax.text(x, y + 20, name, ha='center', va='center', fontsize=6, color='#555555')
    ax.text(x, y + 29.5, 'Sin empresas', ha='center', va='center', fontsize=5, color='#888888')

# header
ax.text(760, 30, 'Distribucion geografica ponderada por densidad - Cluster: 2947', ha='center', va='center', fontsize=16.4, fontweight='bold')
ax.text(760, 68, r'$\rho_{rel}$: Densidad relativa respecto a la media nacional. Ej: +0.10 significa un 10% de sobreponderación.', ha='center', va='center', fontsize=8.2, style='italic')
ax.text(760, 80, r'(Si una provincia tiene 50 empresas con $\rho_{rel}$ +0.10, tiene un exceso de 5 empresas respecto a su cuota esperada).', ha='center', va='center', fontsize=8.2, style='italic')

# left column
left = 65
ax.text(left, 162, 'Astrología y formación integral', va='center', fontsize=11.9, fontweight='bold')
for y, line in zip([191.8, 204.3, 217], ['Consultorios y escuelas de astrología', 'con cursos, lecturas de carta natal,', 'tarot y terapias integrales']):
    ax.text(left, y, line, va='center', fontsize=10)
ax.text(left, 265.3, 'Total empresas: 90', va='center', fontsize=11, fontweight='bold')
ax.plot([65, 312], [281.8, 281.8], color='#999999', linewidth=1.0)
ax.text(left, 308.2, 'Top 3 empresas (empleados)', va='center', fontsize=9.1)
for y, line in zip(top_y, top_empresas):
    ax.text(left, y, line, va='center', fontsize=8.2, style='italic')
ax.text(left, 406.6, 'Principales keywords', va='center', fontsize=9.2, fontweight='bold')
for i, line in enumerate(keywords):
    ax.text(left, 424.5 + i * 10.75, line, va='center', fontsize=8.2)
ax.text(left, 516, 'Descripción del cluster', va='center', fontsize=9.2, fontweight='bold')
for i, line in enumerate(descripcion):
    ax.text(left, 533 + i * 10.75, line, va='center', fontsize=8.2, color='#444444')

# legend
ax.text(1316, 810, 'Referencias de colores', va='center', fontsize=10)
handles = [Patch(facecolor=c, edgecolor='none') for c in cat_colors]
ax.legend(handles, cat_labels, loc='upper left', bbox_to_anchor=(1317, 833), bbox_transform=ax.transData,
          frameon=False, fontsize=9, borderpad=0, borderaxespad=0, labelspacing=0.55, handlelength=1.93, handleheight=0.6, handletextpad=0.87)

fig.savefig('out.png', dpi=200)
